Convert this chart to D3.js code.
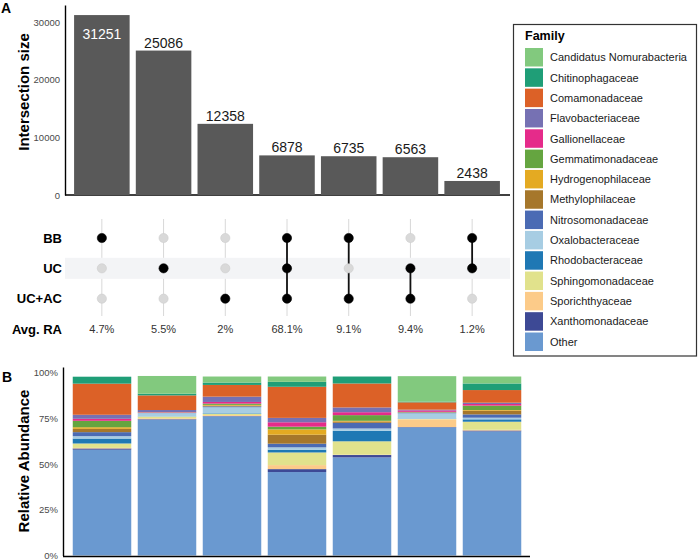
<!DOCTYPE html>
<html>
<head>
<meta charset="utf-8">
<script src="https://cdn.jsdelivr.net/npm/d3@7"></script>
<style>
	body { margin: 0; background: #fff; }
	svg { font-family: "Liberation Sans", Arial, Helvetica, sans-serif; }
	.axis path { stroke: #000; stroke-width: 1.4; }
	.axis text { fill: #4a4a4a; font-size: 9.5px; }
</style>
</head>
<body>
<div id="chartContainer"></div>
<script>

// upset part
var intersections = ["BB", "UC", "UC+AC", "BB&UC&UC+AC", "BB&UC+AC", "UC&UC+AC", "BB&UC"]
var sizes = [31251, 25086, 12358, 6878, 6735, 6563, 2438]
var setNames = ["BB", "UC", "UC+AC"]
var members = [["BB"], ["UC"], ["UC+AC"], ["BB", "UC", "UC+AC"], ["BB", "UC+AC"], ["UC", "UC+AC"], ["BB", "UC"]]
var avgRA = ["4.7%", "5.5%", "2%", "68.1%", "9.1%", "9.4%", "1.2%"]
var yTicks = [0, 10000, 20000, 30000]

// family composition (% relative abundance per intersection)
var families = ["Candidatus Nomurabacteria", "Chitinophagaceae", "Comamonadaceae", "Flavobacteriaceae",
	"Gallionellaceae", "Gemmatimonadaceae", "Hydrogenophilaceae", "Methylophilaceae", "Nitrosomonadaceae",
	"Oxalobacteraceae", "Rhodobacteraceae", "Sphingomonadaceae", "Sporichthyaceae", "Xanthomonadaceae", "Other"]
var familyColours = ["#82c97e", "#1f9e77", "#dc6127", "#7671b3", "#e52b8a", "#65a540", "#e4aa22",
	"#a6772b", "#4b6bb4", "#a7cde3", "#1f78b4", "#e1e28c", "#fccb89", "#3d4995", "#6a99d0"]

var candidatus = [0, 9.7, 3.3, 2.9, 0, 13.9, 3.8]
var chitino = [3.8, 0.9, 1.3, 2.7, 3.8, 0.4, 3.6]
var comamonad = [17.0, 8.0, 6.4, 17.0, 13.1, 4.0, 6.9]
var flavo = [2.2, 1.1, 2.9, 2.4, 2.6, 0.4, 0.7]
var gallion = [1.1, 0.2, 0.9, 2.4, 1.6, 0.8, 0.9]
var gemmat = [3.5, 0.1, 0.7, 1.5, 3.1, 0.2, 2.4]
var hydrogeno = [0.9, 0.1, 0.4, 2.9, 0.4, 0.1, 0.4]
var methylo = [1.8, 0.1, 0.4, 4.9, 0.7, 0.1, 2.0]
var nitroso = [2.2, 0.1, 0.5, 2.0, 3.1, 0.4, 1.8]
var oxalo = [1.3, 1.8, 3.3, 1.3, 1.3, 2.9, 0.9]
var rhodo = [2.7, 0.1, 0.3, 1.5, 5.7, 0.2, 1.3]
var sphingo = [2.4, 0.9, 0.7, 6.9, 7.3, 0.2, 4.4]
var sporich = [0.3, 0.5, 0.5, 2.2, 0.2, 4.2, 0.4]
var xantho = [0.7, 0.3, 0.2, 1.6, 1.3, 0.2, 0.5]
var other = [57.8, 74.2, 76.0, 45.6, 53.6, 70.0, 67.8]
var abundance = [candidatus, chitino, comamonad, flavo, gallion, gemmat, hydrogeno, methylo,
	nitroso, oxalo, rhodo, sphingo, sporich, xantho, other]
var pctTicks = [0, 25, 50, 75, 100]


function makeChart() {

	var width = 700
	var height = 560

	d3.select("#chartContainer svg").remove();

	var svg = d3.select("#chartContainer").append("svg")
		.attr("width", width)
		.attr("height", height)

	// ---- A: intersection sizes

	var x = d3.scaleBand()
		.domain(intersections)
		.range([71, 503])
		.paddingInner(0.1)
		.paddingOuter(0.05)

	var y = d3.scaleLinear()
		.domain([0, 33000])
		.range([195, 5])

	svg.append("text")
		.attr("x", 1)
		.attr("y", 13)
		.style("font-weight", "bold")
		.style("font-size", "14px")
		.text("A")

	svg.append("g")
		.attr("class", "axis")
		.attr("transform", "translate(65,0)")
		.call(d3.axisLeft(y).tickValues(yTicks).tickSize(0).tickSizeOuter(0).tickPadding(5).tickFormat(d3.format("d")))

	svg.append("line")
		.attr("x1", 65).attr("x2", 510)
		.attr("y1", 195).attr("y2", 195)
		.attr("stroke", "#000")
		.attr("stroke-width", 1.4)

	svg.append("text")
		.attr("transform", "translate(29,92) rotate(-90)")
		.attr("text-anchor", "middle")
		.style("font-weight", "bold")
		.style("font-size", "15px")
		.text("Intersection size")

	svg.append("g")
		.selectAll("rect")
		.data(sizes)
		.enter().append("rect")
			.attr("x", (d, i) => x(intersections[i]))
			.attr("y", d => y(d))
			.attr("width", x.bandwidth())
			.attr("height", d => y(0) - y(d))
			.attr("fill", "#595959")

	svg.append("g")
		.selectAll("text")
		.data(sizes)
		.enter().append("text")
			.attr("x", (d, i) => x(intersections[i]) + x.bandwidth() / 2)
			.attr("y", d => y(d) < 25 ? y(d) + 24 : y(d) - 3)
			.attr("text-anchor", "middle")
			.attr("fill", d => y(d) < 25 ? "#fff" : "#1a1a1a")
			.style("font-size", "14px")
			.text(d => d)

	// ---- matrix

	var rowY = d3.scalePoint()
		.domain(setNames.concat(["Avg. RA"]))
		.range([238, 329])

	svg.append("rect")
		.attr("x", 65)
		.attr("y", rowY("UC") - 10.5)
		.attr("width", 445)
		.attr("height", 21)
		.attr("fill", "#f3f4f6")

	var cols = svg.append("g")
		.selectAll("g")
		.data(intersections)
		.enter().append("g")
			.attr("transform", d => "translate(" + (x(d) + x.bandwidth() / 2) + ",0)")

	// faint guide lines, broken by the shaded row
	cols.append("line")
		.attr("y1", 219).attr("y2", rowY("UC") - 10.5)
		.attr("stroke", "#d8d8d8")
	cols.append("line")
		.attr("y1", rowY("UC") + 10.5).attr("y2", 316)
		.attr("stroke", "#d8d8d8")

	cols.each(function(d, i) {
		var ys = members[i].map(s => rowY(s))
		if (ys.length > 1) {
			d3.select(this).append("line")
				.attr("y1", d3.min(ys)).attr("y2", d3.max(ys))
				.attr("stroke", "#111")
				.attr("stroke-width", 1.8)
		}
	})

	cols.selectAll("circle")
		.data((d, i) => setNames.map(s => ({set: s, on: members[i].indexOf(s) > -1})))
		.enter().append("circle")
			.attr("cy", d => rowY(d.set))
			.attr("r", 4.6)
			.attr("fill", d => d.on ? "#000" : "#d9d9d9")
			.attr("stroke", d => d.on ? "#000" : "#cdcdcd")
			.attr("stroke-width", 0.6)

	cols.append("text")
		.attr("y", rowY("Avg. RA") + 4)
		.attr("text-anchor", "middle")
		.attr("fill", "#333")
		.style("font-size", "11px")
		.text((d, i) => avgRA[i])

	svg.append("g")
		.selectAll("text")
		.data(rowY.domain())
		.enter().append("text")
			.attr("x", 62)
			.attr("y", d => rowY(d) + 4.5)
			.attr("text-anchor", "end")
			.style("font-weight", "bold")
			.style("font-size", "13px")
			.text(d => d)

	// ---- legend

	var legend = svg.append("g")

	legend.append("rect")
		.attr("x", 513.5).attr("y", 24.5)
		.attr("width", 183).attr("height", 331.5)
		.attr("fill", "#fff")
		.attr("stroke", "#333")
		.attr("stroke-width", 1.2)

	legend.append("text")
		.attr("x", 525).attr("y", 39.5)
		.style("font-weight", "bold")
		.style("font-size", "12.5px")
		.text("Family")

	var legendY = d3.scaleBand()
		.domain(families)
		.range([48, 48 + 20.2 * families.length])
		.paddingInner(0.09)
		.paddingOuter(0)

	var items = legend.selectAll(".item")
		.data(families)
		.enter().append("g")
			.attr("class", "item")
			.attr("transform", d => "translate(525," + legendY(d) + ")")

	items.append("rect")
		.attr("width", 18)
		.attr("height", legendY.bandwidth())
		.attr("fill", (d, i) => familyColours[i])

	items.append("text")
		.attr("x", 25)
		.attr("y", legendY.bandwidth() / 2 + 4)
		.attr("fill", "#1a1a1a")
		.style("font-size", "11px")
		.text(d => d)

	// ---- B: relative abundance

	svg.append("text")
		.attr("x", 2)
		.attr("y", 382)
		.style("font-weight", "bold")
		.style("font-size", "14px")
		.text("B")

	var xb = d3.scaleBand()
		.domain(intersections)
		.range([69.5, 524.5])
		.paddingInner(0.1)
		.paddingOuter(0.05)

	var yb = d3.scaleLinear()
		.domain([0, 103])
		.range([555.5, 367])

	var rows = intersections.map(function(d, j) {
		var r = {key: d}
		families.forEach(function(f, k) { r[f] = abundance[k][j] })
		return r
	})

	var stacked = d3.stack()
		.keys(families.slice().reverse())(rows)

	var colour = d3.scaleOrdinal()
		.domain(families)
		.range(familyColours)

	svg.append("g")
		.selectAll("g")
		.data(stacked)
		.enter().append("g")
			.attr("fill", d => colour(d.key))
		.selectAll("rect")
		.data(d => d)
		.enter().append("rect")
			.attr("x", d => xb(d.data.key))
			.attr("y", d => yb(d[1]))
			.attr("width", xb.bandwidth())
			.attr("height", d => yb(d[0]) - yb(d[1]))

	svg.append("g")
		.attr("class", "axis")
		.attr("transform", "translate(63,0)")
		.call(d3.axisLeft(yb).tickValues(pctTicks).tickSize(0).tickSizeOuter(0).tickPadding(5).tickFormat(d => d + "%"))

	svg.append("line")
		.attr("x1", 63).attr("x2", 530)
		.attr("y1", 556.5).attr("y2", 556.5)
		.attr("stroke", "#000")
		.attr("stroke-width", 1.4)

	svg.append("text")
		.attr("transform", "translate(29,461) rotate(-90)")
		.attr("text-anchor", "middle")
		.style("font-weight", "bold")
		.style("font-size", "15px")
		.text("Relative Abundance")
}

makeChart();

</script>
</body>
</html>
